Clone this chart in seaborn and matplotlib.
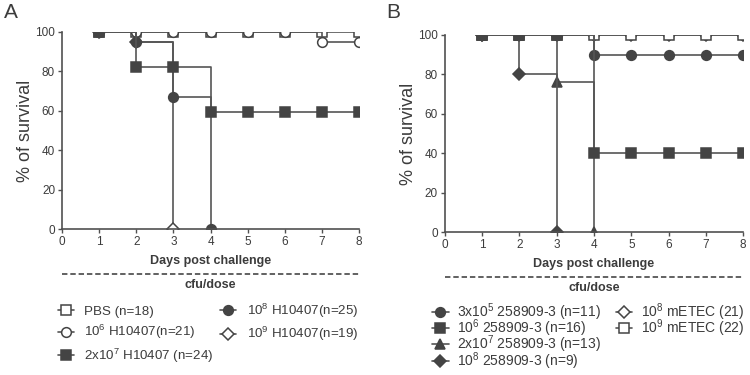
import matplotlib
matplotlib.use("Agg")
import matplotlib.pyplot as plt
import seaborn as sns
from matplotlib.lines import Line2D

# ---- data (percent survival per day) ----
days = [1, 2, 3, 4, 5, 6, 7, 8]

# panel A
a_pbs = [100, 100, 100, 100, 100, 100, 100, 100]
a_1e6 = [100, 100, 100, 100, 100, 100, 95, 95]
a_2e7 = [100, 82, 82, 59.5, 59.5, 59.5, 59.5, 59.5]
a_1e8 = [100, 95, 67, 0]
a_1e9 = [100, 95, 0]

# panel B
b_3e5 = [100, 100, 100, 90, 90, 90, 90, 90]
b_1e6 = [100, 100, 100, 40, 40, 40, 40, 40]
b_2e7 = [100, 100, 76, 0]
b_1e8 = [100, 80, 0]
b_m1e8 = [100, 100, 100, 100, 100, 100, 100, 100]
b_m1e9 = [100, 100, 100, 100, 100, 100, 100, 100]

labels_a = ["PBS (n=18)", "10$^6$ H10407(n=21)", "2x10$^7$ H10407 (n=24)",
            "10$^8$ H10407(n=25)", "10$^9$ H10407(n=19)"]
labels_b = ["3x10$^5$ 258909-3 (n=11)", "10$^6$ 258909-3 (n=16)",
            "2x10$^7$ 258909-3 (n=13)", "10$^8$ 258909-3 (n=9)",
            "10$^8$ mETEC (21)", "10$^9$ mETEC (22)"]

sns.set_style("ticks")
plt.rcParams["font.family"] = ["Liberation Sans", "DejaVu Sans"]
plt.rcParams["mathtext.default"] = "regular"

LINE = "#555555"
MARK = "#444444"
TXT = "#3c3c3c"


def km(ax, y, marker, filled, label, ms=7):
    sns.lineplot(x=days[:len(y)], y=y, ax=ax, drawstyle="steps-post",
                 color=LINE, lw=1.2, marker=marker, markersize=ms,
                 markerfacecolor=MARK if filled else "white",
                 markeredgecolor=MARK, markeredgewidth=1.1,
                 label=label, legend=False, errorbar=None)


def style(ax):
    ax.set_xlim(0, 8)
    ax.set_ylim(0, 100)
    ax.set_xticks(range(0, 9))
    ax.set_yticks(range(0, 101, 20))
    sns.despine(ax=ax)
    for s in ["left", "bottom"]:
        ax.spines[s].set_color("#505050")
        ax.spines[s].set_linewidth(1.2)
    ax.tick_params(colors="#505050", labelcolor=TXT, labelsize=8.5,
                   length=3, width=1, pad=2)
    ax.set_ylabel("% of survival", fontsize=13, color=TXT, labelpad=1)
    ax.set_xlabel("Days post challenge", fontsize=9, fontweight="bold",
                  color=TXT, labelpad=5)
    ax.plot([0, 1], [-0.225, -0.225], transform=ax.transAxes, clip_on=False,
            color="#555555", lw=1.3, ls=(0, (3, 1.6)))
    ax.text(0.5, -0.285, "cfu/dose", transform=ax.transAxes, ha="center",
            va="center", fontsize=9, fontweight="bold", color=TXT)


fig = plt.figure(figsize=(7.5, 3.75), dpi=100)
ax_a = fig.add_axes([0.0827, 0.389, 0.396, 0.526])
ax_b = fig.add_axes([0.593, 0.381, 0.398, 0.526])

# panel A: open symbols first, filled on top
km(ax_a, a_pbs, "s", False, labels_a[0])
km(ax_a, a_1e6, "o", False, labels_a[1])
km(ax_a, a_1e9, "D", False, labels_a[4], ms=6)
km(ax_a, a_1e8, "o", True, labels_a[3])
km(ax_a, a_2e7, "s", True, labels_a[2])
style(ax_a)

# panel B
km(ax_b, b_m1e8, "D", False, labels_b[4], ms=6)
km(ax_b, b_m1e9, "s", False, labels_b[5])
km(ax_b, b_3e5, "o", True, labels_b[0])
km(ax_b, b_2e7, "^", True, labels_b[2])
km(ax_b, b_1e8, "D", True, labels_b[3], ms=6)
km(ax_b, b_1e6, "s", True, labels_b[1])
style(ax_b)

fig.text(4 / 750, 1 - 12 / 375, "A", fontsize=15, color=TXT, va="center")
fig.text(386 / 750, 1 - 13 / 375, "B", fontsize=15, color=TXT, va="center")

# legends
h, l = ax_a.get_legend_handles_labels()
hd = dict(zip(l, h))
fig.legend([hd[k] for k in labels_a], labels_a, ncol=2, loc="upper left",
           bbox_to_anchor=(51 / 750, 1 - 295 / 375), frameon=False,
           fontsize=9.6, labelcolor=TXT, handlelength=1.2, handletextpad=0.8,
           columnspacing=0.5, labelspacing=0.4, borderpad=0)

h, l = ax_b.get_legend_handles_labels()
hd = dict(zip(l, h))
blank = Line2D([], [], alpha=0)
fig.legend([hd[k] for k in labels_b] + [blank, blank], labels_b + ["", ""],
           ncol=2, loc="upper left",
           bbox_to_anchor=(425 / 750, 1 - 294 / 375), frameon=False,
           fontsize=10, labelcolor=TXT, handlelength=1.2, handletextpad=0.6,
           columnspacing=1.05, labelspacing=-0.38, borderpad=0)

fig.savefig("out.png", dpi=100)
